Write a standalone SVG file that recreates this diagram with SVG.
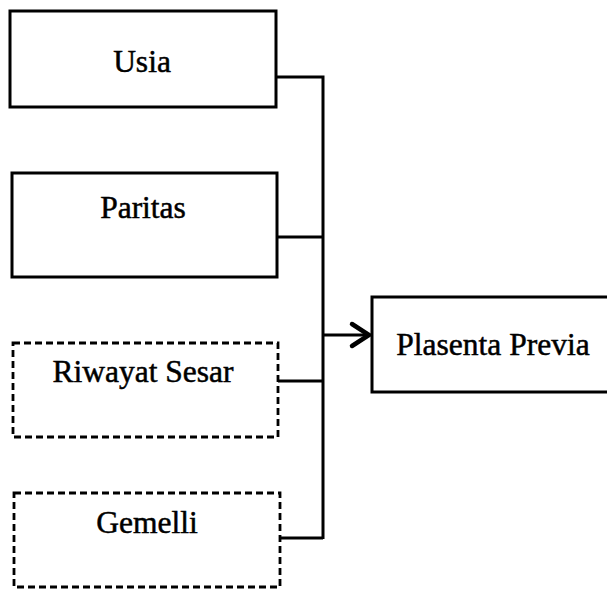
<svg xmlns="http://www.w3.org/2000/svg" width="607" height="589" viewBox="0 0 607 589">
<style>
.box{fill:#fff;stroke:#000;stroke-width:3}
.dash{fill:#fff;stroke:#000;stroke-width:2.8;stroke-dasharray:7 4}
.lbl{font-family:"Liberation Serif","Times New Roman",serif;font-size:31.5px;fill:#000;stroke:#000;stroke-width:0.5;text-anchor:middle}
.con{fill:none;stroke:#000;stroke-width:3}
</style>
<rect width="607" height="589" fill="#fff"/>
<g id="connectors">
<polyline class="con" points="276,77 323,77 323,539"/>
<line class="con" x1="277" y1="237" x2="323" y2="237"/>
<line class="con" x1="278" y1="381" x2="323" y2="381"/>
<line class="con" x1="280" y1="538" x2="323" y2="538"/>
<line class="con" x1="323" y1="335" x2="368" y2="335"/>
<polyline fill="none" stroke="#000" stroke-width="4.5" stroke-linecap="round" stroke-linejoin="miter" points="352,324 369,335 352,346"/>
</g>
<g id="usia">
<rect class="box" x="10" y="11" width="266" height="96"/>
<text class="lbl" x="142" y="72">Usia</text>
</g>
<g id="paritas">
<rect class="box" x="12" y="173" width="265" height="104"/>
<text class="lbl" x="143" y="218">Paritas</text>
</g>
<g id="riwayat">
<rect class="dash" x="13" y="343" width="265" height="94"/>
<text class="lbl" x="143" y="382">Riwayat Sesar</text>
</g>
<g id="gemelli">
<rect class="dash" x="14" y="493" width="266" height="94"/>
<text class="lbl" x="147" y="533">Gemelli</text>
</g>
<g id="plasenta">
<rect class="box" x="372" y="297" width="250" height="95"/>
<text class="lbl" x="493" y="355">Plasenta Previa</text>
</g>
</svg>
